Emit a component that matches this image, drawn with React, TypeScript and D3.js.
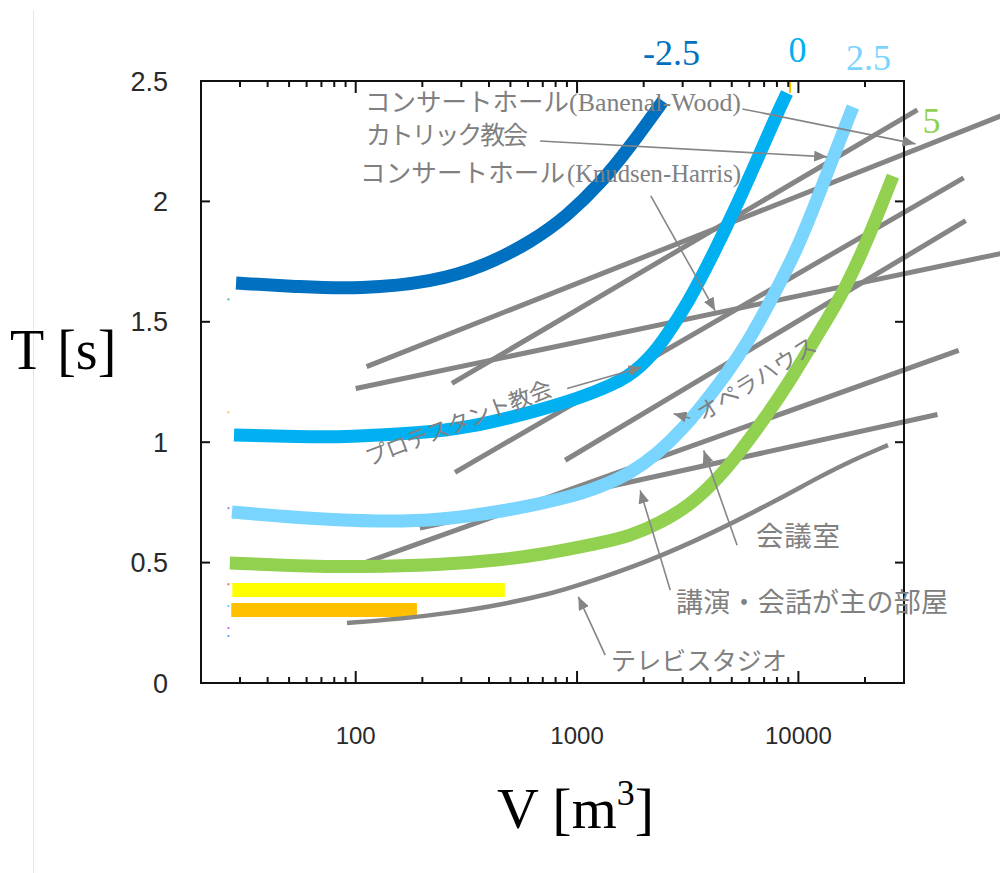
import React from 'react';
import * as d3 from 'd3';

const W = 1000;
const H = 873;

// ---- axis ticks ----
const yTickValues = [0, 0.5, 1, 1.5, 2, 2.5];
const yTickLabels = ['0', '0.5', '1', '1.5', '2', '2.5'];
const xLabelValues = [100, 1000, 10000];
const xTickLabels = ['100', '1000', '10000'];
const xMinorValues = [30, 40, 50, 60, 70, 80, 90, 200, 300, 400, 500, 600, 700, 800, 900,
  2000, 3000, 4000, 5000, 6000, 7000, 8000, 9000, 20000];

// ---- loudness curves (V [m3], T [s]) ----
const curveNames = ['-2.5', '0', '2.5', '5'];
const curveColors = ['#0070C0', '#00B0F0', '#79D4FE', '#92D050'];

const vCurveM25 = [28.8, 56, 104.5, 223.4, 375.8, 632.3, 900.6, 1269, 1734, 2445];
const tCurveM25 = [1.661, 1.645, 1.636, 1.665, 1.728, 1.836, 1.939, 2.072, 2.226, 2.417];

const vCurve0 = [28.2, 56, 94.2, 195.2, 318.2, 632.3, 1031, 1438, 1697, 1944, 2215, 2496, 3171, 4070, 5279, 6706, 8003, 8880];
const tCurve0 = [1.03, 1.022, 1.022, 1.038, 1.059, 1.125, 1.184, 1.238, 1.274, 1.316, 1.37, 1.432, 1.578, 1.77, 1.985, 2.2, 2.363, 2.45];

const vCurve25 = [27.6, 56, 132.8, 240.3, 448.5, 900.6, 1269, 1734, 2297, 3010, 3822, 4806, 6043, 7598, 9854, 12130, 14780, 17640];
const tCurve25 = [0.71, 0.685, 0.669, 0.677, 0.71, 0.768, 0.814, 0.87, 0.95, 1.055, 1.172, 1.292, 1.43, 1.597, 1.8, 2.006, 2.213, 2.392];

const vCurve5 = [27, 56, 104.5, 240.3, 448.5, 680, 1269, 1734, 2369, 3237, 4200, 5445, 7063, 9162, 11880, 15410, 19990, 26750];
const tCurve5 = [0.498, 0.486, 0.482, 0.49, 0.511, 0.532, 0.581, 0.61, 0.664, 0.739, 0.835, 0.959, 1.1, 1.254, 1.429, 1.595, 1.811, 2.105];

// ---- recommended ranges by room type: straight segments (V0,T0)-(V1,T1) ----
const roomNames = [
  'コンサートホール(Banenal-Wood)',
  'コンサートホール(Knudsen-Harris)',
  'カトリック教会',
  'プロテスタント教会',
  'オペラハウス',
  '会議室',
  '講演・会話が主の部屋',
];
const roomV0 = [112, 100, 272, 281, 884, 112, 195];
const roomT0 = [1.314, 1.223, 1.244, 0.875, 0.925, 0.502, 0.643];
const roomV1 = [100000, 100000, 34500, 55800, 57000, 53000, 42500];
const roomT1 = [2.386, 1.8, 2.38, 2.098, 1.92, 1.381, 1.115];

// ---- TV studio curve ----
const vTv = [91.3, 158.5, 266.7, 448.5, 754.6, 1031, 2070, 4113, 8257, 11640, 16580, 25390];
const tTv = [0.249, 0.266, 0.291, 0.324, 0.37, 0.407, 0.502, 0.623, 0.766, 0.842, 0.915, 0.988];

// ---- small rooms: horizontal bands ----
const bandColors = ['#FFFF00', '#FFC000'];
const bandV0 = [27.7, 27.4];
const bandV1 = [472, 189];
const bandT = [0.386, 0.303];

// ---- leftover marker specks at the left edge ----
const speckT = [1.593, 1.124, 0.726, 0.41, 0.32, 0.228, 0.195];
const speckColors = ['#4bb8b8', '#f5c46a', '#9a8cf0', '#e07a5f', '#5fd3f3', '#d070f0', '#6aa8f0'];

// ---- annotation arrows (tail -> tip, in data units) ----
const arrowTailV = [5585, 681, 2153, 902, 3243, 5285, 2636, 1340];
const arrowTailT = [2.384, 2.251, 2.023, 1.223, 1.0998, 0.572, 0.386, 0.116];
const arrowTipV = [33800, 13490, 4207, 1963, 2729, 3733, 1928, 1014];
const arrowTipT = [2.239, 2.185, 1.546, 1.311, 1.118, 0.966, 0.8, 0.358];

const GRAY = '#858585';
const TEXT_GRAY = '#808080';
const JP = '"Noto Sans CJK JP", "Noto Sans", sans-serif';
const SERIF = '"Liberation Serif", "DejaVu Serif", serif';
const SANS = '"Liberation Sans", Arial, sans-serif';

const x = d3.scaleLog().domain([20, 30000]).range([201, 904]);
const y = d3.scaleLinear().domain([0, 2.5]).range([683, 81]);

const zip = (vs: number[], ts: number[]) => vs.map((v, i) => [v, ts[i]] as [number, number]);

const smooth = d3
  .line<[number, number]>()
  .x((d) => x(d[0]))
  .y((d) => y(d[1]))
  .curve(d3.curveBasis);

const straight = d3
  .line<[number, number]>()
  .x((d) => x(d[0]))
  .y((d) => y(d[1]));

const curves = [
  zip(vCurveM25, tCurveM25),
  zip(vCurve0, tCurve0),
  zip(vCurve25, tCurve25),
  zip(vCurve5, tCurve5),
];

export default function App() {
  const left = x.range()[0];
  const right = x.range()[1];
  const top = y.range()[1];
  const bottom = y.range()[0];

  return (
    <svg
      width={W}
      height={H}
      viewBox={`0 0 ${W} ${H}`}
      style={{ position: 'absolute', left: 0, top: 0, background: '#fff' }}
    >
      <defs>
        <marker
          id="ah"
          markerUnits="userSpaceOnUse"
          markerWidth={14}
          markerHeight={11}
          refX={13}
          refY={5.5}
          orient="auto"
        >
          <path d="M0,0 L13,5.5 L0,11 Z" fill={GRAY} />
        </marker>
      </defs>

      {/* page edge line */}
      <line x1={33.5} x2={33.5} y1={10} y2={H} stroke="#e6e6e6" strokeWidth={1} />

      {/* small-room bands */}
      {bandColors.map((c, i) => (
        <line
          key={c}
          x1={x(bandV0[i])}
          x2={x(bandV1[i])}
          y1={y(bandT[i])}
          y2={y(bandT[i])}
          stroke={c}
          strokeWidth={14}
        />
      ))}

      {/* room-type ranges */}
      {roomNames.map((n, i) => (
        <path
          key={n}
          d={straight([[roomV0[i], roomT0[i]], [roomV1[i], roomT1[i]]]) || ''}
          stroke={GRAY}
          strokeWidth={5}
          fill="none"
        />
      ))}

      {/* TV studio */}
      <path d={smooth(zip(vTv, tTv)) || ''} stroke={GRAY} strokeWidth={4.5} fill="none" />

      {/* loudness curves */}
      {curves.map((pts, i) => (
        <path
          key={curveNames[i]}
          d={smooth(pts) || ''}
          stroke={curveColors[i]}
          strokeWidth={13}
          fill="none"
        />
      ))}

      {/* specks */}
      {speckT.map((t, i) => (
        <rect key={i} x={x(26.6) - 1} y={y(t) - 1} width={2} height={2} fill={speckColors[i]} />
      ))}
      <line x1={790} x2={790} y1={82} y2={93} stroke="#FFC000" strokeWidth={2} />

      {/* frame */}
      <rect x={left} y={top} width={right - left} height={bottom - top} fill="none" stroke="#111" strokeWidth={2} />

      {/* y ticks */}
      {yTickValues.map((t, i) => (
        <g key={'y' + t}>
          <line x1={left} x2={left + 9} y1={y(t)} y2={y(t)} stroke="#111" strokeWidth={2} />
          <line x1={right} x2={right - 9} y1={y(t)} y2={y(t)} stroke="#111" strokeWidth={2} />
          <text
            x={168}
            y={y(t) + 9.5}
            textAnchor="end"
            fontFamily={SANS}
            fontSize={27}
            fill="#2a2a2a"
          >
            {yTickLabels[i]}
          </text>
        </g>
      ))}

      {/* x ticks */}
      {xMinorValues.map((v) => (
        <g key={'xm' + v}>
          <line x1={x(v)} x2={x(v)} y1={bottom} y2={bottom - 6} stroke="#111" strokeWidth={2} />
          <line x1={x(v)} x2={x(v)} y1={top} y2={top + 6} stroke="#111" strokeWidth={2} />
        </g>
      ))}
      {xLabelValues.map((v, i) => (
        <g key={'xM' + v}>
          <line x1={x(v)} x2={x(v)} y1={bottom} y2={bottom - 12} stroke="#111" strokeWidth={2} />
          <line x1={x(v)} x2={x(v)} y1={top} y2={top + 12} stroke="#111" strokeWidth={2} />
          <text x={x(v)} y={744} textAnchor="middle" fontFamily={SANS} fontSize={24} fill="#2a2a2a">
            {xTickLabels[i]}
          </text>
        </g>
      ))}

      {/* axis titles */}
      <text x={10} y={369} fontFamily={SERIF} fontSize={56} fill="#000">
        T [s]
      </text>
      <text x={497} y={828} fontFamily={SERIF} fontSize={58} fill="#000">
        V [m<tspan dy={-23} fontSize={36}>3</tspan>
        <tspan dy={23}>]</tspan>
      </text>

      {/* curve labels */}
      <text x={643} y={65} fontFamily={SERIF} fontSize={36} fill={curveColors[0]}>
        {curveNames[0]}
      </text>
      <text x={797.5} y={62} textAnchor="middle" fontFamily={SERIF} fontSize={36} fill={curveColors[1]}>
        {curveNames[1]}
      </text>
      <text x={846} y={70} fontFamily={SERIF} fontSize={36} fill={curveColors[2]}>
        {curveNames[2]}
      </text>
      <text x={922.5} y={133} fontFamily={SERIF} fontSize={36} fill={curveColors[3]}>
        {curveNames[3]}
      </text>

      {/* annotation arrows */}
      {arrowTailV.map((v, i) => (
        <line
          key={'a' + i}
          x1={x(v)}
          y1={y(arrowTailT[i])}
          x2={x(arrowTipV[i])}
          y2={y(arrowTipT[i])}
          stroke={GRAY}
          strokeWidth={1.6}
          markerEnd="url(#ah)"
        />
      ))}

      {/* annotation labels */}
      <g fill={TEXT_GRAY}>
        <text x={365} y={111} fontFamily={JP} fontSize={25.5} textLength={204} lengthAdjust="spacing">
          コンサートホール
        </text>
        <text x={569} y={111} fontFamily={SERIF} fontSize={25} textLength={172} lengthAdjust="spacingAndGlyphs">
          (Banenal-Wood)
        </text>
        <text x={366} y={144} fontFamily={JP} fontSize={25} textLength={162} lengthAdjust="spacing">
          カトリック教会
        </text>
        <text x={360} y={182} fontFamily={JP} fontSize={25.5} textLength={205} lengthAdjust="spacing">
          コンサートホール
        </text>
        <text x={567} y={182} fontFamily={SERIF} fontSize={25} textLength={174} lengthAdjust="spacingAndGlyphs">
          (Knudsen-Harris)
        </text>
        <text
          transform="translate(369,466) rotate(-21)"
          fontFamily={JP}
          fontSize={22.5}
          textLength={198}
          lengthAdjust="spacing"
        >
          プロテスタント教会
        </text>
        <text
          transform="translate(703,422) rotate(-32)"
          fontFamily={JP}
          fontSize={22.5}
          textLength={136}
          lengthAdjust="spacing"
        >
          オペラハウス
        </text>
        <text x={756} y={546} fontFamily={JP} fontSize={27.5} textLength={84} lengthAdjust="spacing">
          会議室
        </text>
        <text x={676} y={612} fontFamily={JP} fontSize={27} textLength={272} lengthAdjust="spacing">
          講演・会話が主の部屋
        </text>
        <text x={611} y={670} fontFamily={JP} fontSize={25} textLength={176} lengthAdjust="spacing">
          テレビスタジオ
        </text>
      </g>
    </svg>
  );
}
